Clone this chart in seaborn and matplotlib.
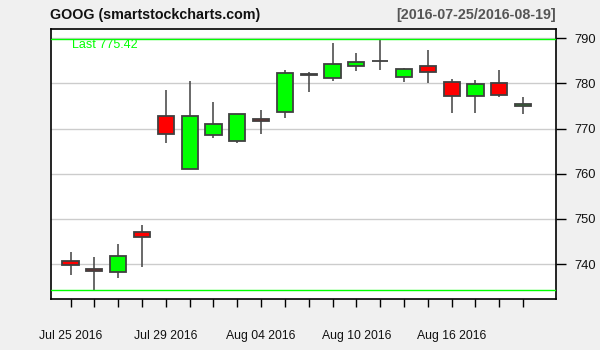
import matplotlib
matplotlib.use("Agg")
import matplotlib.pyplot as plt
import seaborn as sns
import pandas as pd
import numpy as np

dates = ["2016-07-25", "2016-07-26", "2016-07-27", "2016-07-28", "2016-07-29",
         "2016-08-01", "2016-08-02", "2016-08-03", "2016-08-04", "2016-08-05",
         "2016-08-08", "2016-08-09", "2016-08-10", "2016-08-11", "2016-08-12",
         "2016-08-15", "2016-08-16", "2016-08-17", "2016-08-18", "2016-08-19"]
opens = [740.67, 739.04, 738.28, 747.04, 772.71, 761.09, 768.69, 767.18, 772.22, 773.78,
         782.00, 781.10, 783.75, 785.00, 781.50, 783.75, 780.30, 777.32, 780.01, 775.00]
highs = [742.61, 741.69, 744.46, 748.65, 778.55, 780.43, 775.84, 773.21, 774.07, 783.04,
         782.63, 788.94, 786.81, 789.75, 783.40, 787.49, 780.98, 780.81, 782.86, 777.10]
lows = [737.50, 734.27, 737.00, 739.30, 766.77, 761.09, 767.85, 766.82, 768.80, 772.34,
        778.09, 780.57, 782.78, 782.97, 780.40, 780.11, 773.44, 773.53, 777.00, 773.13]
closes = [739.77, 738.42, 741.77, 745.91, 768.79, 772.88, 771.07, 773.18, 771.61, 782.22,
          781.76, 784.26, 784.68, 784.85, 783.22, 782.44, 777.14, 779.91, 777.50, 775.42]
yticks = [740, 750, 760, 770, 780, 790]
label_idx = [0, 4, 8, 12, 16]

df = pd.DataFrame({"date": pd.to_datetime(dates), "open": opens, "high": highs,
                   "low": lows, "close": closes})
df["x"] = np.arange(len(df))
df["up"] = df["close"] >= df["open"]

sns.set_theme(style="white")
plt.rcParams["font.family"] = ["Liberation Sans", "DejaVu Sans"]

fig = plt.figure(figsize=(6, 3.5), dpi=100, facecolor="#f0f0f0")
ax = fig.add_axes([50.5/600, 51/350, 505.5/600, 270.3/350])
ax.set_facecolor("white")

for y in yticks:
    ax.axhline(y, color="#cccccc", lw=1.0, zorder=0)

# wicks
ax.vlines(df["x"], df["low"], df["high"], color="#404040", lw=1.1, zorder=2)
# bodies
bottoms = np.minimum(df["open"], df["close"])
heights = np.abs(df["close"] - df["open"])
colors = ["#00ff00" if u else "#ff0000" for u in df["up"]]
ax.bar(df["x"], heights, bottom=bottoms, width=0.68, color=colors,
       edgecolor="#404040", linewidth=1.3, zorder=3)

ax.axhline(max(highs), color="#00ff00", lw=1.0, zorder=4)
ax.axhline(min(lows), color="#00ff00", lw=1.0, zorder=4)

ax.set_xlim(-0.84, 20.38)
ax.set_ylim(732.3, 792.1)

ax.yaxis.tick_right()
ax.set_yticks(yticks)
ax.set_yticklabels([str(v) for v in yticks], fontsize=9.3, color="#111111")
ax.set_xticks(df["x"])
ax.set_xticklabels([df["date"][i].strftime("%b %d %Y") if i in label_idx else ""
                    for i in range(len(df))], fontsize=8.8, color="#111111")
ax.tick_params(axis="x", direction="out", length=6, width=1, color="black", pad=16, bottom=True)
ax.tick_params(axis="y", direction="out", length=7, width=1, color="black", pad=6, right=True, left=False)
for s in ax.spines.values():
    s.set_visible(True)
    s.set_color("black")
    s.set_linewidth(1.2)

fig.text(72/600, 1 - 39/350, "Last 775.42", color="#00ff00",
         fontsize=9.0, va="top", ha="left")
fig.text(50.5/600, 1 - 15.5/350, "GOOG (smartstockcharts.com)", fontsize=10.3,
         fontweight="bold", color="#111111", va="center", ha="left")
fig.text(556/600, 1 - 15.5/350, "[2016-07-25/2016-08-19]", fontsize=10.3,
         fontweight="bold", color="#555555", va="center", ha="right")

fig.savefig("out.png", dpi=100, facecolor=fig.get_facecolor())
